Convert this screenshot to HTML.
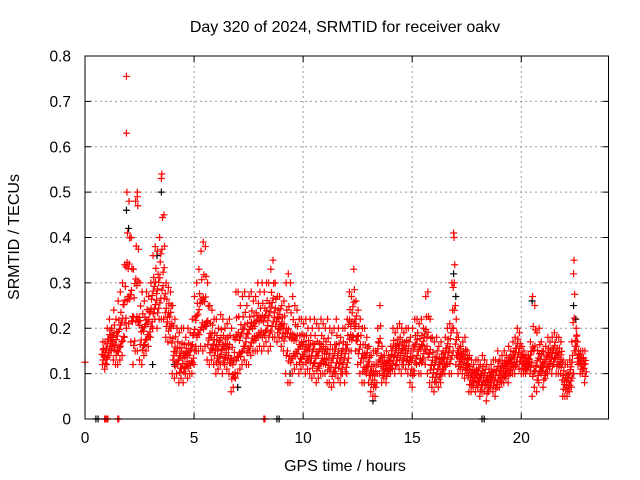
<!DOCTYPE html>
<html><head><meta charset="utf-8"><style>
body{margin:0;background:#fff}
svg{display:block;font-family:"Liberation Sans",sans-serif}
</style></head><body>
<svg id="chart" width="640" height="480" viewBox="0 0 640 480">
<rect width="640" height="480" fill="#fff"/>
<text x="345" y="32" font-size="16" text-anchor="middle">Day 320 of 2024, SRMTID for receiver oakv</text>
<text x="345" y="471" font-size="16" text-anchor="middle">GPS time / hours</text>
<text transform="translate(19,237) rotate(-90)" font-size="16" text-anchor="middle">SRMTID / TECUs</text>
<g id="grid"></g>
<g id="ticks"></g>
<g id="black"></g>
<g id="red"></g>
<rect x="85" y="56" width="523.5" height="363" fill="none" stroke="#000" stroke-width="1"/>
</svg>
<script>
const xTicks=[0,5,10,15,20];
const yTicks=[0,0.1,0.2,0.3,0.4,0.5,0.6,0.7,0.8];
const yTickLabels=["0","0.1","0.2","0.3","0.4","0.5","0.6","0.7","0.8"];
const tStart=0.8, tStep=0.1;
const hiVals=[.17,.17,.2,.22,.2,.24,.22,.26,.28,.3,.34,.5,.48,.4,.33,.48,.47,.3,.28,.26,.28,.27,.3,.36,.38,.37,.4,.54,.45,.3,.29,.28,.25,.22,.2,.19,.2,.2,.18,.2,.19,.22,.27,.3,.33,.37,.39,.38,.3,.25,.24,.22,.22,.2,.23,.22,.2,.21,.22,.2,.18,.28,.28,.25,.27,.28,.25,.27,.28,.26,.27,.3,.28,.3,.28,.3,.3,.33,.35,.3,.27,.27,.25,.26,.3,.32,.3,.27,.25,.24,.22,.22,.21,.22,.2,.22,.2,.22,.21,.2,.22,.21,.2,.22,.2,.19,.2,.22,.2,.18,.2,.2,.22,.28,.27,.33,.26,.24,.22,.2,.2,.18,.16,.14,.15,.15,.2,.25,.16,.14,.15,.14,.16,.2,.19,.2,.21,.2,.19,.2,.2,.18,.2,.22,.22,.21,.22,.2,.27,.28,.22,.18,.17,.18,.16,.17,.15,.18,.2,.21,.3,.4,.22,.18,.16,.17,.18,.15,.14,.13,.12,.13,.13,.12,.14,.13,.12,.11,.12,.13,.13,.15,.13,.14,.15,.14,.16,.15,.17,.18,.2,.19,.16,.15,.14,.14,.17,.27,.25,.19,.2,.17,.15,.16,.18,.17,.18,.19,.18,.18,.17,.13,.12,.12,.13,.17,.35,.2,.15,.15,.15,.15];
const loVals=[.12,.11,.12,.14,.15,.13,.12,.12,.13,.14,.18,.2,.21,.17,.12,.15,.15,.13,.12,.14,.15,.16,.18,.2,.22,.2,.22,.22,.22,.18,.17,.18,.1,.09,.1,.08,.09,.08,.1,.09,.1,.1,.12,.15,.15,.16,.15,.16,.13,.12,.13,.12,.1,.11,.12,.1,.12,.11,.1,.06,.07,.09,.1,.11,.12,.13,.12,.12,.14,.15,.15,.15,.16,.15,.16,.17,.15,.16,.18,.18,.17,.18,.16,.15,.1,.08,.08,.1,.11,.12,.1,.11,.12,.1,.11,.1,.09,.1,.08,.09,.1,.1,.1,.08,.08,.07,.08,.1,.09,.08,.1,.08,.1,.15,.15,.18,.15,.12,.1,.08,.08,.1,.08,.06,.05,.05,.1,.1,.08,.09,.08,.1,.1,.11,.1,.12,.11,.1,.12,.11,.1,.08,.07,.1,.12,.1,.1,.13,.12,.1,.08,.07,.06,.08,.07,.08,.1,.1,.12,.1,.1,.2,.12,.1,.11,.1,.09,.1,.06,.06,.07,.06,.07,.05,.06,.06,.04,.06,.07,.06,.05,.07,.07,.08,.08,.09,.08,.1,.1,.1,.12,.11,.1,.1,.1,.11,.1,.05,.07,.06,.08,.1,.07,.09,.1,.11,.1,.12,.1,.1,.1,.05,.05,.05,.06,.07,.1,.15,.12,.1,.1,.08];
const outlierT=[1.9,1.9,2.4,2.4,16.9,0.0,3.5,22.4];
const outlierV=[.755,.63,.49,.5,.41,.125,.53,.32];
const blackT=[1.9,2.0,3.3,3.5,4.1,7.0,9.4,13.2,16.9,17.0,20.5,22.4,22.5,3.1];
const blackV=[.46,.42,.36,.5,.12,.07,.1,.04,.32,.27,.26,.25,.22,.12];
const zeroRedT=[0.9,1.0,1.5,8.2];
const zeroBlackT=[0.5,0.6,8.8,8.9,18.2,18.3];

const X0=85,X1=608.5,Y0=419,Y1=56,XMAX=24,YMAX=0.8;
const xs=t=>X0+(X1-X0)*t/XMAX;
const ys=v=>Y0-(Y0-Y1)*v/YMAX;
const NS='http://www.w3.org/2000/svg';
function mk(tag,attrs,parent){const e=document.createElementNS(NS,tag);for(const k in attrs)e.setAttribute(k,attrs[k]);parent.appendChild(e);return e;}
const grid=document.getElementById('grid'),ticks=document.getElementById('ticks');
xTicks.forEach(t=>{
  const x=xs(t);
  if(t>0){const g=mk('line',{x1:x,x2:x,y1:Y1,y2:Y0,stroke:'#999','stroke-dasharray':'2,3'},grid);
  
  }
  mk('line',{x1:x,x2:x,y1:Y0,y2:Y0-6,stroke:'#000'},ticks);
  mk('line',{x1:x,x2:x,y1:Y1,y2:Y1+6,stroke:'#000'},ticks);
  const l=mk('text',{x:x,y:443,'font-size':15.5,'text-anchor':'middle'},ticks);l.textContent=t;
  
  
});
yTicks.forEach((v,i)=>{
  const y=ys(v);
  if(v>0&&v<YMAX){const g=mk('line',{x1:X0,x2:X1,y1:y,y2:y,stroke:'#999','stroke-dasharray':'2,3'},grid);
  
  }
  mk('line',{x1:X0,x2:X0+6,y1:y,y2:y,stroke:'#000'},ticks);
  mk('line',{x1:X1,x2:X1-6,y1:y,y2:y,stroke:'#000'},ticks);
  const l=mk('text',{x:71,y:y+5.5,'font-size':15.5,'text-anchor':'end'},ticks);l.textContent=yTickLabels[i];
  
  
});
function plus(g,t,v,col){
  const x=xs(t),y=ys(v);
  const p=mk('path',{d:`M${x-3.5},${y}h7M${x},${y-3.5}v7`,stroke:col,'stroke-width':1.2,fill:'none'},g);
  
  
}
const red=document.getElementById('red'),black=document.getElementById('black');
blackT.forEach((t,i)=>plus(black,t,blackV[i],'#000'));
zeroBlackT.forEach(t=>plus(black,t,0,'#000'));
const fr=[0,0.2,0.45,0.7,1],dt=[0,0.03,-0.02,0.05,0.02];
const n=Math.min(hiVals.length,loVals.length);
for(let i=0;i<n;i++){
  const t=tStart+tStep*i,lo=loVals[i],hi=hiVals[i];
  for(let k=0;k<fr.length;k++){
    const v=lo+(hi-lo)*fr[k];
    plus(red,t+dt[k],v,'#f00');
    if(k===2||k===1) plus(red,t+dt[k]+0.05,v+0.01,'#f00');
  }
}
outlierT.forEach((t,i)=>plus(red,t,outlierV[i],'#f00'));
zeroRedT.forEach(t=>{plus(red,t,0,'#f00');plus(red,t+0.05,0,'#f00');});
</script>
</body></html>
